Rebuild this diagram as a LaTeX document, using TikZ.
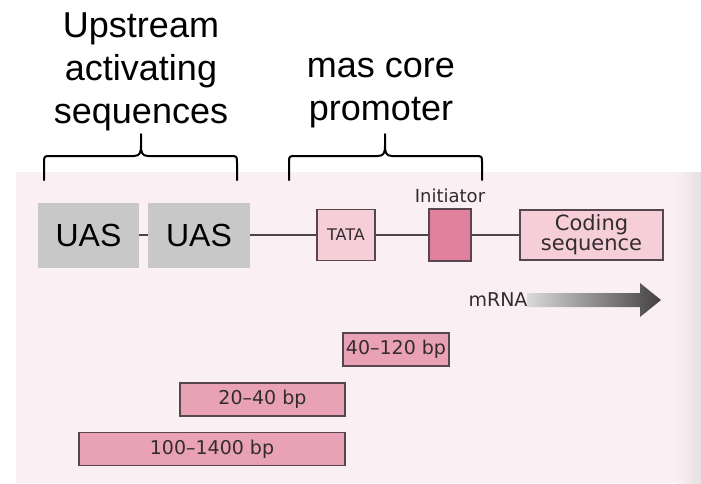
\documentclass[tikz,border=0pt]{standalone}
\usepackage{fontspec}
\setmainfont{DejaVu Sans}
\newfontfamily\headfont{Liberation Sans}
\usetikzlibrary{positioning}

\definecolor{page}{RGB}{250,240,243}
\definecolor{gutter}{RGB}{230,224,227}
\definecolor{uasgray}{RGB}{200,200,200}
\definecolor{lightpink}{RGB}{245,206,216}
\definecolor{barpink}{RGB}{233,162,181}
\definecolor{deeppink}{RGB}{225,128,156}
\definecolor{edge}{RGB}{88,70,78}
\definecolor{dnaline}{RGB}{78,68,72}
\definecolor{booktext}{RGB}{50,44,48}
\definecolor{arrowdark}{RGB}{68,64,66}

\begin{document}
\begin{tikzpicture}[x=1pt, y=-1pt,
    head/.style={font=\headfont\fontsize{36}{43}\selectfont, align=center, inner sep=0pt},
    uas/.style={fill=uasgray, inner sep=0pt, minimum height=65pt, font=\headfont\fontsize{32}{36}\selectfont},
    gene/.style={draw=edge, line width=1.3pt, inner sep=0pt, text=booktext, font=\fontsize{19}{20}\selectfont},
    bar/.style={gene, fill=barpink, minimum height=33pt},
    booklbl/.style={text=booktext, inner sep=0pt, font=\fontsize{19}{20}\selectfont},
    dna/.style={draw=dnaline, line width=2pt},
    brace/.style={line width=2pt, line cap=round}
]
    \useasboundingbox (0,0) rectangle (701,483);

    % scanned page behind the gene
    \fill[page] (16,172) rectangle (701,483);
    \shade[left color=page, right color=gutter] (676,172) rectangle (701,483);

    % labels and braces on top
    \node[head, anchor=north] (uashead) at (141,13) {Upstream\\activating\\sequences};
    \node[head, anchor=north] (corehead) at (381,58) {mas core\\promoter};
    \foreach \l/\c/\r in {44/141/237, 289/385/482} {
        \draw[brace] (\l,180) -- (\l,163) .. controls (\l,156) .. (\l+7,156) -- (\c-7,156)
            .. controls (\c-1,156) and (\c,152) .. (\c,146) -- (\c,134);
        \draw[brace] (\r,180) -- (\r,163) .. controls (\r,156) .. (\r-7,156) -- (\c+7,156)
            .. controls (\c+1,156) and (\c,152) .. (\c,146);
    }

    % gene
    \node[uas, minimum width=101pt] (uas1) at (88.5,235) {UAS};
    \node[uas, minimum width=102pt] (uas2) at (199,235) {UAS};
    \node[gene, fill=lightpink, minimum width=58pt, minimum height=51pt, font=\fontsize{16}{16}\selectfont] (tata) at (346,235) {TATA};
    \node[gene, fill=deeppink, minimum width=42pt, minimum height=52pt] (init) at (450,235) {};
    \node[booklbl, anchor=base, font=\fontsize{18}{18}\selectfont] (initlbl) at (450,202) {Initiator};
    \node[gene, fill=lightpink, minimum width=143pt, minimum height=50pt, align=center, font=\fontsize{21}{20}\selectfont] (cds) at (591.5,235) {Coding\\sequence};

    \draw[dna] (uas1) -- (uas2);
    \draw[dna] (uas2) -- (tata);
    \draw[dna] (tata) -- (init);
    \draw[dna] (init) -- (cds);

    % transcript
    \node[booklbl] (mrna) at (498,300) {mRNA};
    \coordinate (tip) at (661,300);
    \shade[left color=black!15, right color=arrowdark]
        ([yshift=7pt]mrna.east) -- ([xshift=-21pt,yshift=7pt]tip) -- ([xshift=-21pt,yshift=17pt]tip)
        -- (tip) -- ([xshift=-21pt,yshift=-17pt]tip) -- ([xshift=-21pt,yshift=-7pt]tip)
        -- ([yshift=-7pt]mrna.east) -- cycle;

    % lengths
    \node[bar, minimum width=106pt] (bp40) at (396,349.5) {40--120 bp};
    \node[bar, minimum width=165pt] (bp20) at (262.5,399.5) {20--40 bp};
    \node[bar, minimum width=266pt] (bp100) at (212,449) {100--1400 bp};
\end{tikzpicture}
\end{document}
